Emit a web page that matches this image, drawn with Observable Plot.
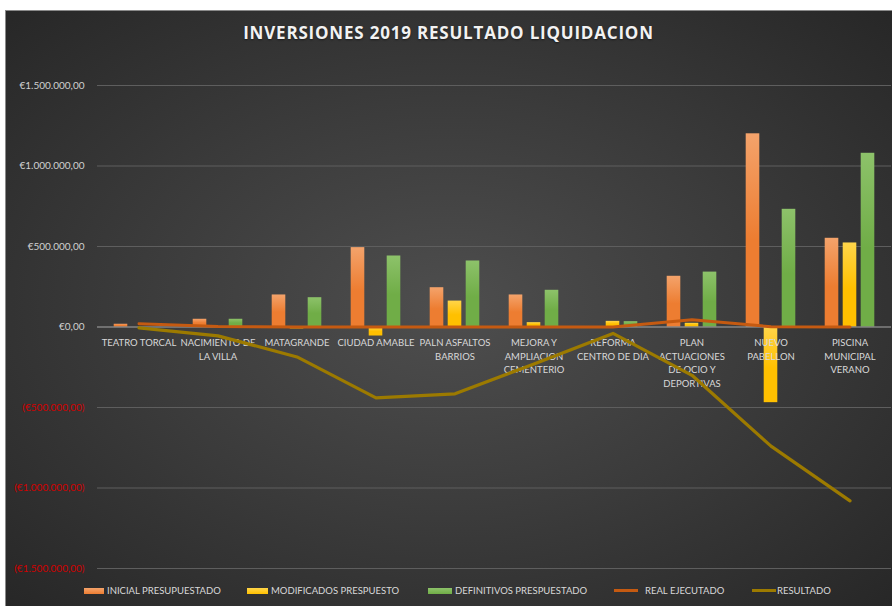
<!DOCTYPE html>
<html><head><meta charset="utf-8">
<script src="https://cdn.jsdelivr.net/npm/d3@7"></script>
<script src="https://cdn.jsdelivr.net/npm/@observablehq/plot@0.6"></script>
<style>
body{margin:0;background:#fff;}
#wrap{position:relative;width:892px;height:606px;overflow:hidden;}
#bg{position:absolute;left:5px;top:10px;width:887px;height:596px;box-sizing:border-box;
 background:radial-gradient(ellipse farthest-corner at 50% 50%, #4e4e4e 0%, #3b3b3b 50%, #272727 100%);
 border-top:1px solid #8a8a8a;border-left:1px solid #8a8a8a;}
#title{position:absolute;left:5px;width:887px;top:21px;text-align:center;font:700 17px "Open Sans",sans-serif;color:#f2f2f2;letter-spacing:0.8px;text-shadow:0 1px 2px rgba(0,0,0,.5);}
#chart{position:absolute;left:0;top:0;}
#legend{position:absolute;top:585px;left:0;width:892px;height:14px;font:9.5px Lato,sans-serif;color:#d9d9d9;}
.item{position:absolute;top:0;display:flex;align-items:center;white-space:nowrap;}
.sw{display:inline-block;margin-right:3px;}
</style></head>
<body>
<div id="wrap">
  <div id="bg"></div>
  <div id="title">INVERSIONES 2019 RESULTADO LIQUIDACION</div>
  <div id="chart"></div>
  <div id="legend"></div>
</div>
<script>
const categories = ["TEATRO TORCAL","NACIMIENTO DE LA VILLA","MATAGRANDE","CIUDAD AMABLE","PALN ASFALTOS BARRIOS","MEJORA Y AMPLIACION CEMENTERIO","REFORMA CENTRO DE DIA","PLAN ACTUACIONES DE OCIO Y DEPORTIVAS","NUEVO PABELLON","PISCINA MUNICIPAL VERANO"];
const categoryLabels = ["TEATRO TORCAL","NACIMIENTO DE\nLA VILLA","MATAGRANDE","CIUDAD AMABLE","PALN ASFALTOS\nBARRIOS","MEJORA Y\nAMPLIACION\nCEMENTERIO","REFORMA\nCENTRO DE DIA","PLAN\nACTUACIONES\nDE OCIO Y\nDEPORTIVAS","NUEVO\nPABELLON","PISCINA\nMUNICIPAL\nVERANO"];
const seriesNames = ["INICIAL PRESUPUESTADO","MODIFICADOS PRESPUESTO","DEFINITIVOS PRESPUESTADO","REAL EJECUTADO","RESULTADO"];
const inicial = [17000, 48000, 199000, 493000, 244000, 199000, 0, 315000, 1200000, 551000];
const modificados = [0, 0, -12000, -56000, 161000, 27000, 35000, 23000, -470000, 522000];
const definitivos = [0, 48000, 182000, 441000, 410000, 228000, 33000, 341000, 731000, 1079000];
const realEjecutado = [20000, 3000, 0, 0, 0, 0, 0, 45000, 2000, 0];
const resultado = [-5000, -55000, -186000, -440000, -415000, -230000, -40000, -300000, -740000, -1080000];
const yTicks = [-1500000, -1000000, -500000, 0, 500000, 1000000, 1500000];

const colors = ["#ED7D31", "#FFC000", "#70AD47", "#C55A11", "#9C7A00"];
const lightColors = ["#F4A36B", "#FFD54A", "#8DC26A"];

const loc = d3.formatLocale({decimal: ",", thousands: ".", grouping: [3], currency: ["€", ""]});
const f = loc.format("$,.2f");
const fmt = v => v < 0 ? "(" + f(-v) + ")" : f(v);

const W = 892, H = 606, mL = 97, mR = 1;
const bw = (W - mL - mR) / categories.length;
const barW = 14, step = 18;

const rows = arr => categories.map((c, i) => ({cat: c, v: arr[i], label: categoryLabels[i]}));

function defs() {
  const d = d3.create("svg:defs");
  lightColors.forEach((lc, i) => {
    const g = d.append("linearGradient").attr("id", "g" + i).attr("x1", 0).attr("y1", 0).attr("x2", 0).attr("y2", 1);
    g.append("stop").attr("offset", "0%").attr("stop-color", lc);
    g.append("stop").attr("offset", "55%").attr("stop-color", colors[i]);
    g.append("stop").attr("offset", "100%").attr("stop-color", colors[i]);
  });
  return d.node();
}

const barSeries = [inicial, modificados, definitivos];
const barMarks = barSeries.map((arr, i) => {
  const off = (i - 1) * step;
  return Plot.barY(rows(arr), {
    x: "cat", y: "v", fill: `url(#g${i})`,
    insetLeft: bw / 2 + off - barW / 2,
    insetRight: bw / 2 - off - barW / 2
  });
});

const chart = Plot.plot({
  width: W, height: H,
  marginLeft: mL, marginRight: mR, marginTop: 85, marginBottom: 38,
  style: {background: "transparent", fontFamily: "Lato, sans-serif"},
  x: {domain: categories, padding: 0, axis: null},
  y: {domain: [-1500000, 1500000], axis: null},
  marks: [
    defs,
    Plot.gridY(yTicks.filter(d => d !== 0), {stroke: "#5e5e5e", strokeOpacity: 1}),
    Plot.axisY(yTicks.filter(d => d >= 0), {tickSize: 0, tickPadding: 13, tickFormat: fmt, fill: "#d0d0d0", fontSize: 10, label: null}),
    Plot.axisY(yTicks.filter(d => d < 0), {tickSize: 0, tickPadding: 13, tickFormat: fmt, fill: "#d00000", fontSize: 10, label: null}),
    ...barMarks,
    Plot.ruleY([0], {stroke: "#a8a8a8", strokeWidth: 1}),
    Plot.text(rows(inicial), {x: "cat", y: 0, text: "label", dy: 9, lineAnchor: "top", fontSize: 9.5, fill: "#d9d9d9", lineHeight: 1.45}),
    Plot.line(rows(realEjecutado), {x: "cat", y: "v", stroke: colors[3], strokeWidth: 3}),
    Plot.line(rows(resultado), {x: "cat", y: "v", stroke: colors[4], strokeWidth: 3.2})
  ]
});
document.getElementById("chart").appendChild(chart);

// Legend
const legendPos = [{sx: 84, w: 20}, {sx: 247, w: 21}, {sx: 428, w: 24}, {sx: 614, w: 24}, {sx: 752, w: 24}];
const lg = document.getElementById("legend");
seriesNames.forEach((name, i) => {
  const it = document.createElement("div");
  it.className = "item";
  it.style.left = legendPos[i].sx + "px";
  const sw = document.createElement("span");
  sw.className = "sw";
  sw.style.width = legendPos[i].w + "px";
  if (i < 3) {
    sw.style.height = "6px";
    sw.style.background = `linear-gradient(${lightColors[i]}, ${colors[i]})`;
  } else {
    sw.style.height = "3px";
    sw.style.background = colors[i];
    sw.style.marginRight = i === 3 ? "7px" : "1px";
  }
  it.appendChild(sw);
  it.appendChild(document.createTextNode(name));
  lg.appendChild(it);
});
</script>
</body></html>
